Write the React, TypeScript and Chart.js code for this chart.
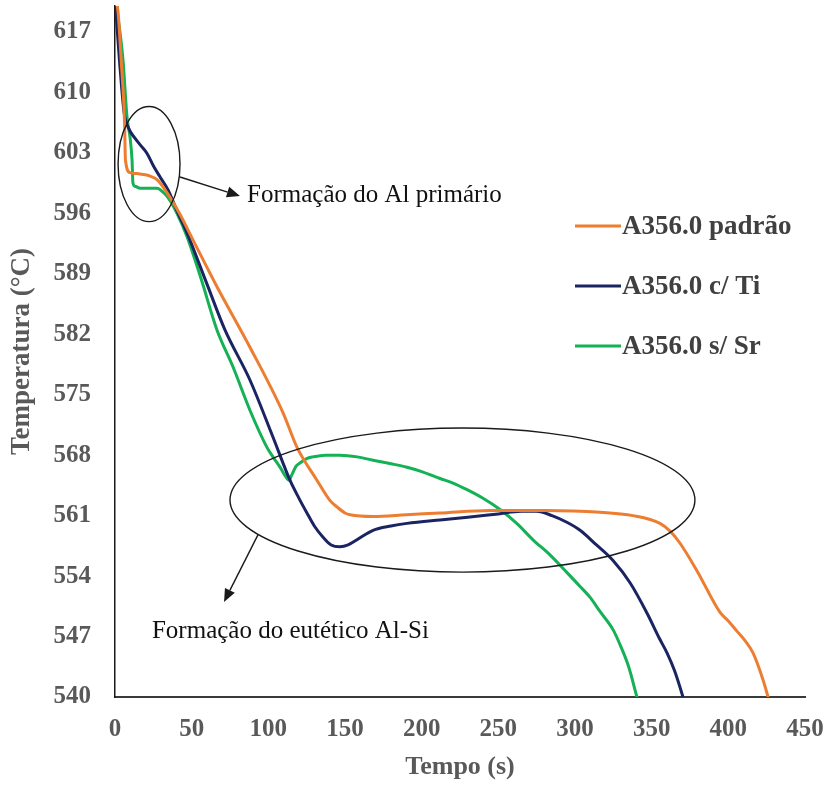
import React, { useEffect, useRef } from "react";
import { Chart, registerables } from "chart.js";

Chart.register(...registerables);

// Cooling curves (time in s, temperature in °C)
const padraoTime = [0, 2, 4, 5.9, 6.3, 6.8, 9.8, 14, 18.3, 23, 27.4, 33.9, 42, 50.9, 66.5, 88, 109.6, 118.7, 131.7, 140, 144.8, 150, 153.3, 168.3, 190, 212, 244.6, 280, 316.3, 337.8, 355.4, 362, 368.5, 379.6, 394.6, 400, 405.7, 411, 416.1, 422.6, 425.9, 428];
const padraoTemp = [621, 619.3, 613.8, 608, 606, 602.2, 600.7, 600.6, 600.5, 600.3, 599.9, 598.4, 596, 592.9, 587.5, 580.5, 572.9, 568.9, 565.1, 562.8, 562, 561.3, 561.1, 560.9, 561.1, 561.3, 561.6, 561.6, 561.4, 561, 560.1, 559.2, 557.8, 554.6, 549.8, 548.8, 547.6, 546.5, 545.1, 542, 540, 538.5];

const tiTime = [0, 0.5, 3, 6, 9, 13, 17, 21, 25, 29.4, 34.6, 40.4, 47, 60, 71.7, 88, 103, 114.1, 120, 125.2, 130, 135.7, 141, 146.7, 152, 157.8, 168.3, 180, 190.4, 212, 230, 250, 265, 275, 285, 295, 303.3, 314, 324.8, 336, 347, 355, 360, 365, 370.4, 372];
const tiTemp = [621, 619.5, 613.5, 607.6, 605.8, 604.7, 603.8, 602.9, 601.5, 600.2, 598.7, 596.3, 593.7, 587.8, 582.5, 576.7, 570.1, 565.1, 563, 561.3, 559.8, 558.5, 557.6, 557.4, 557.6, 558.2, 559.3, 559.8, 560.1, 560.5, 560.8, 561.2, 561.5, 561.5, 561, 560.2, 559.3, 557.6, 555.8, 553.2, 549.7, 546.8, 545.1, 543, 540, 539];

const srTime = [0, 1.3, 5.2, 7.8, 9.8, 11.1, 11.7, 13.5, 16.3, 22, 27.4, 31, 34.6, 40.4, 47, 56, 66.5, 77, 88, 99.1, 103, 108, 111, 113.5, 115.5, 118, 120.7, 125, 129.1, 137, 146.7, 158, 168.3, 180, 190.4, 200, 212, 220, 229.6, 240, 251.1, 262, 272.6, 284, 294.8, 303.3, 310, 316.3, 324.8, 330, 335, 340.4, 342];
const srTemp = [621, 619.5, 613.8, 607.2, 604.8, 602.2, 599.5, 599.1, 598.9, 598.9, 598.9, 598.5, 597.8, 596, 593.3, 588.5, 582.5, 578.2, 573.2, 568.9, 567.8, 566.5, 565.6, 565.1, 565.8, 566.7, 567.1, 567.6, 567.8, 568, 568, 567.8, 567.4, 567, 566.6, 566.1, 565.3, 564.8, 564, 563, 561.7, 560.1, 558.2, 556.4, 554.4, 552.8, 551.5, 549.9, 547.8, 545.8, 543.5, 540, 539];

const seriesNames = ["A356.0 padrão", "A356.0 c/ Ti", "A356.0 s/ Sr"];
const seriesColors = ["#ED7D31", "#1B2463", "#14B155"];

const xTickValues = [0, 50, 100, 150, 200, 250, 300, 350, 400, 450];
const yTickValues = [540, 547, 554, 561, 568, 575, 582, 589, 596, 603, 610, 617];

const SERIF = '"Liberation Serif", "Times New Roman", serif';
const AXIS_GREY = "#595959";

// Annotation geometry in data units (s, °C)
const notes = {
  primaryEllipse: { t: 22.2, T: 601.7, rt: 20.2, rT: 6.66 },
  eutecticEllipse: { t: 226.6, T: 562.8, rt: 151.6, rT: 8.34 },
  primaryArrow: { t0: 42.4, T0: 600.2, t1: 81.5, T1: 598.0 },
  eutecticArrow: { t0: 93.3, T0: 558.8, t1: 71.1, T1: 551.0 },
  primaryText: { t: 86.1, T: 598.1, text: "Formação do Al primário" },
  eutecticText: { t: 24.1, T: 547.6, text: "Formação do eutético Al-Si" },
};

function drawArrow(ctx: CanvasRenderingContext2D, x0: number, y0: number, x1: number, y1: number) {
  const ang = Math.atan2(y1 - y0, x1 - x0);
  const head = 13;
  const half = 5.5;
  const bx = x1 - head * Math.cos(ang);
  const by = y1 - head * Math.sin(ang);
  ctx.beginPath();
  ctx.moveTo(x0, y0);
  ctx.lineTo(bx, by);
  ctx.stroke();
  ctx.beginPath();
  ctx.moveTo(x1, y1);
  ctx.lineTo(bx + half * Math.sin(ang), by - half * Math.cos(ang));
  ctx.lineTo(bx - half * Math.sin(ang), by + half * Math.cos(ang));
  ctx.closePath();
  ctx.fill();
}

const notesPlugin = {
  id: "solidificationNotes",
  afterDatasetsDraw(chart: any) {
    const { ctx, chartArea, scales } = chart;
    const x = scales.x;
    const y = scales.y;
    const px = (t: number) => x.getPixelForValue(t);
    const py = (T: number) => y.getPixelForValue(T);

    ctx.save();
    ctx.strokeStyle = "#1a1a1a";
    ctx.fillStyle = "#1a1a1a";
    ctx.lineWidth = 1.4;

    for (const e of [notes.primaryEllipse, notes.eutecticEllipse]) {
      const cx = px(e.t);
      const cy = py(e.T);
      const rx = Math.abs(px(e.t + e.rt) - cx);
      const ry = Math.abs(py(e.T + e.rT) - cy);
      ctx.beginPath();
      ctx.ellipse(cx, cy, rx, ry, 0, 0, Math.PI * 2);
      ctx.stroke();
    }

    for (const a of [notes.primaryArrow, notes.eutecticArrow]) {
      drawArrow(ctx, px(a.t0), py(a.T0), px(a.t1), py(a.T1));
    }

    ctx.font = `25px ${SERIF}`;
    ctx.fillStyle = "#111111";
    ctx.textAlign = "left";
    ctx.textBaseline = "middle";
    for (const n of [notes.primaryText, notes.eutecticText]) {
      ctx.fillText(n.text, px(n.t), py(n.T));
    }

    // Legend
    const lx = chartArea.left + 460;
    const ly = chartArea.top + 220;
    ctx.font = `bold 27px ${SERIF}`;
    ctx.fillStyle = "#404040";
    ctx.lineWidth = 3;
    seriesNames.forEach((name, i) => {
      const rowY = ly + i * 60;
      ctx.strokeStyle = seriesColors[i];
      ctx.beginPath();
      ctx.moveTo(lx, rowY);
      ctx.lineTo(lx + 46, rowY);
      ctx.stroke();
      ctx.fillText(name, lx + 47, rowY + 1);
    });
    ctx.restore();
  },
};

export default function App() {
  const canvasRef = useRef<HTMLCanvasElement | null>(null);

  useEffect(() => {
    if (!canvasRef.current) return;
    const toPoints = (ts: number[], vs: number[]) => ts.map((t, i) => ({ x: t, y: vs[i] }));
    const series = [
      toPoints(padraoTime, padraoTemp),
      toPoints(tiTime, tiTemp),
      toPoints(srTime, srTemp),
    ];
    const tickFont = { family: SERIF, size: 25, weight: "bold" as const };

    const chart = new Chart(canvasRef.current, {
      type: "line",
      data: {
        datasets: series.map((data, i) => ({
          label: seriesNames[i],
          data,
          borderColor: seriesColors[i],
          backgroundColor: seriesColors[i],
          borderWidth: 3,
          pointRadius: 0,
          tension: 0,
          cubicInterpolationMode: "monotone" as const,
          fill: false,
        })),
      },
      options: {
        animation: false,
        responsive: false,
        maintainAspectRatio: false,
        layout: { padding: { left: 0, top: 6, right: 32, bottom: 0 } },
        plugins: { legend: { display: false }, tooltip: { enabled: false } },
        scales: {
          x: {
            type: "linear",
            min: 0,
            max: 450,
            afterBuildTicks: (s: any) => {
              s.ticks = xTickValues.map((v) => ({ value: v }));
            },
            afterFit: (s: any) => {
              s.height = 88;
              s.paddingLeft = 0;
              s.paddingRight = 0;
            },
            grid: { display: false, drawTicks: false },
            border: { display: true, color: "#3a3a3a", width: 2 },
            ticks: { font: tickFont, color: AXIS_GREY, padding: 18, maxRotation: 0, autoSkip: false },
            title: {
              display: true,
              text: "Tempo (s)",
              font: { family: SERIF, size: 26, weight: "bold" as const },
              color: AXIS_GREY,
              padding: { top: 0, bottom: 2 },
            },
          },
          y: {
            type: "linear",
            min: 540,
            max: 620,
            afterBuildTicks: (s: any) => {
              s.ticks = yTickValues.map((v) => ({ value: v }));
            },
            afterFit: (s: any) => {
              s.width = 115;
              s.paddingTop = 0;
              s.paddingBottom = 0;
            },
            grid: { display: false, drawTicks: false },
            border: { display: true, color: "#1a1a1a", width: 1.5 },
            ticks: { font: tickFont, color: AXIS_GREY, padding: 24, autoSkip: false },
            title: {
              display: true,
              text: "Temperatura (°C)",
              font: { family: SERIF, size: 27, weight: "bold" as const },
              color: AXIS_GREY,
              padding: { top: 6, bottom: 0 },
            },
          },
        },
      },
      plugins: [notesPlugin],
    });
    return () => chart.destroy();
  }, []);

  return (
    <div style={{ position: "absolute", left: 0, top: 0, width: 837, height: 785, background: "#ffffff" }}>
      <canvas ref={canvasRef} width={837} height={785} />
    </div>
  );
}
